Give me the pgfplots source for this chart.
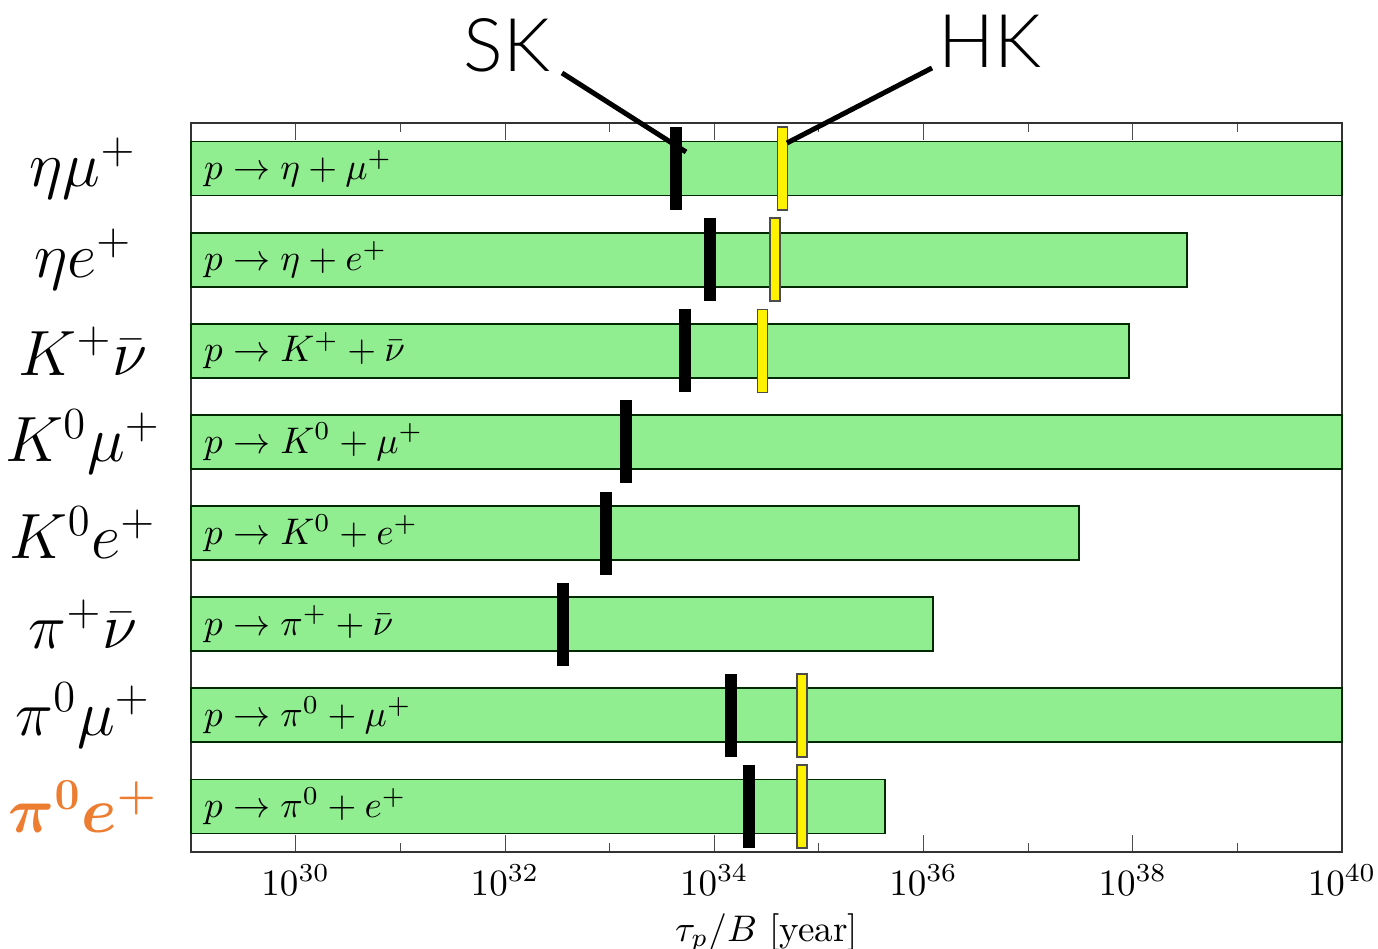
\documentclass[border=0pt]{standalone}
\usepackage{pgfplots}
\pgfplotsset{compat=1.18}
\usepackage{bm}
\usepackage{fontspec}
\newfontfamily\skfont{Lato Light}
\definecolor{barg}{HTML}{90EE90}
\definecolor{orng}{HTML}{ED7D31}
\pgfdeclareplotmark{skbar}{\pgfpathrectangle{\pgfpoint{-1.62pt}{-11.2pt}}{\pgfpoint{3.24pt}{22.4pt}}\pgfusepathqfill}
\pgfdeclareplotmark{hkbar}{\pgfpathrectangle{\pgfpoint{-1.35pt}{-11.2pt}}{\pgfpoint{2.7pt}{22.4pt}}\pgfusepathqfillstroke}
\begin{document}
\begin{tikzpicture}
\path[use as bounding box] (-51.57pt,-26.19pt) rectangle (320.49pt,230.04pt);
\begin{axis}[
  scale only axis, width=310.77pt, height=196.83pt,
  xmode=log, log origin x=infty,
  xmin=1e29, xmax=1e40, ymin=0.5, ymax=8.5,
  xtick={1e30,1e32,1e34,1e36,1e38,1e40},
  minor xtick={1e31,1e33,1e35,1e37,1e39},
  ytick=\empty,
  tick align=inside,
  major tick length=4.6pt, minor tick length=2.4pt,
  axis line style={black!80}, tick style={black!70},
  xlabel={$\tau_p/B$ [year]},
  xlabel style={yshift=2pt},
  clip=false,
]
\addplot[xbar, bar width=14.58pt, fill=barg, draw=black!60!green!40!black, line width=0.5pt]
  coordinates {(1e40,8) (3.31e38,7) (9.12e37,6) (1e40,5) (3.09e37,4) (1.23e36,3) (1e40,2) (4.27e35,1)};
% SK limits
\addplot[only marks, mark=skbar, mark options={fill=black}]
  coordinates {(4.27e33,8) (9.12e33,7) (5.25e33,6) (1.45e33,5) (9.33e32,4) (3.55e32,3) (1.45e34,2) (2.14e34,1)};
% HK sensitivities
\addplot[only marks, mark=hkbar, mark options={fill=yellow, draw=black!70, line width=0.4pt}]
  coordinates {(4.47e34,8) (3.80e34,7) (2.88e34,6) (6.92e34,2) (6.92e34,1)};
% bar labels
\node[anchor=west] at (axis cs:1e29,8) {$p\to\eta+\mu^{+}$};
\node[anchor=west] at (axis cs:1e29,7) {$p\to\eta+e^{+}$};
\node[anchor=west] at (axis cs:1e29,6) {$p\to K^{+}+\bar{\nu}$};
\node[anchor=west] at (axis cs:1e29,5) {$p\to K^{0}+\mu^{+}$};
\node[anchor=west] at (axis cs:1e29,4) {$p\to K^{0}+e^{+}$};
\node[anchor=west] at (axis cs:1e29,3) {$p\to \pi^{+}+\bar{\nu}$};
\node[anchor=west] at (axis cs:1e29,2) {$p\to \pi^{0}+\mu^{+}$};
\node[anchor=west] at (axis cs:1e29,1) {$p\to \pi^{0}+e^{+}$};
% left labels
\begin{scope}[every node/.style={font=\fontsize{17}{20}\selectfont}]
\node at ([xshift=-29.16pt]axis cs:1e29,8) {$\eta\mu^{+}$};
\node at ([xshift=-29.16pt]axis cs:1e29,7) {$\eta e^{+}$};
\node at ([xshift=-29.16pt]axis cs:1e29,6) {$K^{+}\bar{\nu}$};
\node at ([xshift=-29.16pt]axis cs:1e29,5) {$K^{0}\mu^{+}$};
\node at ([xshift=-29.16pt]axis cs:1e29,4) {$K^{0}e^{+}$};
\node at ([xshift=-29.16pt]axis cs:1e29,3) {$\pi^{+}\bar{\nu}$};
\node at ([xshift=-29.16pt]axis cs:1e29,2) {$\pi^{0}\mu^{+}$};
\node[text=orng] at ([xshift=-29.16pt]axis cs:1e29,1) {$\bm{\pi}^{\bm{0}}\bm{e}^{\bm{+}}$};
\end{scope}
\end{axis}
\draw[line width=1.35pt] (100.17pt,210.33pt) -- (133.65pt,189.0pt);
\draw[line width=1.35pt] (200.07pt,211.68pt) -- (160.92pt,191.43pt);
\node[anchor=base, inner sep=0pt, font=\skfont\fontsize{20}{24}\selectfont] at (85.32pt,210.6pt) {SK};
\node[anchor=base, inner sep=0pt, font=\skfont\fontsize{20}{24}\selectfont] at (215.73pt,211.68pt) {HK};
\end{tikzpicture}
\end{document}
